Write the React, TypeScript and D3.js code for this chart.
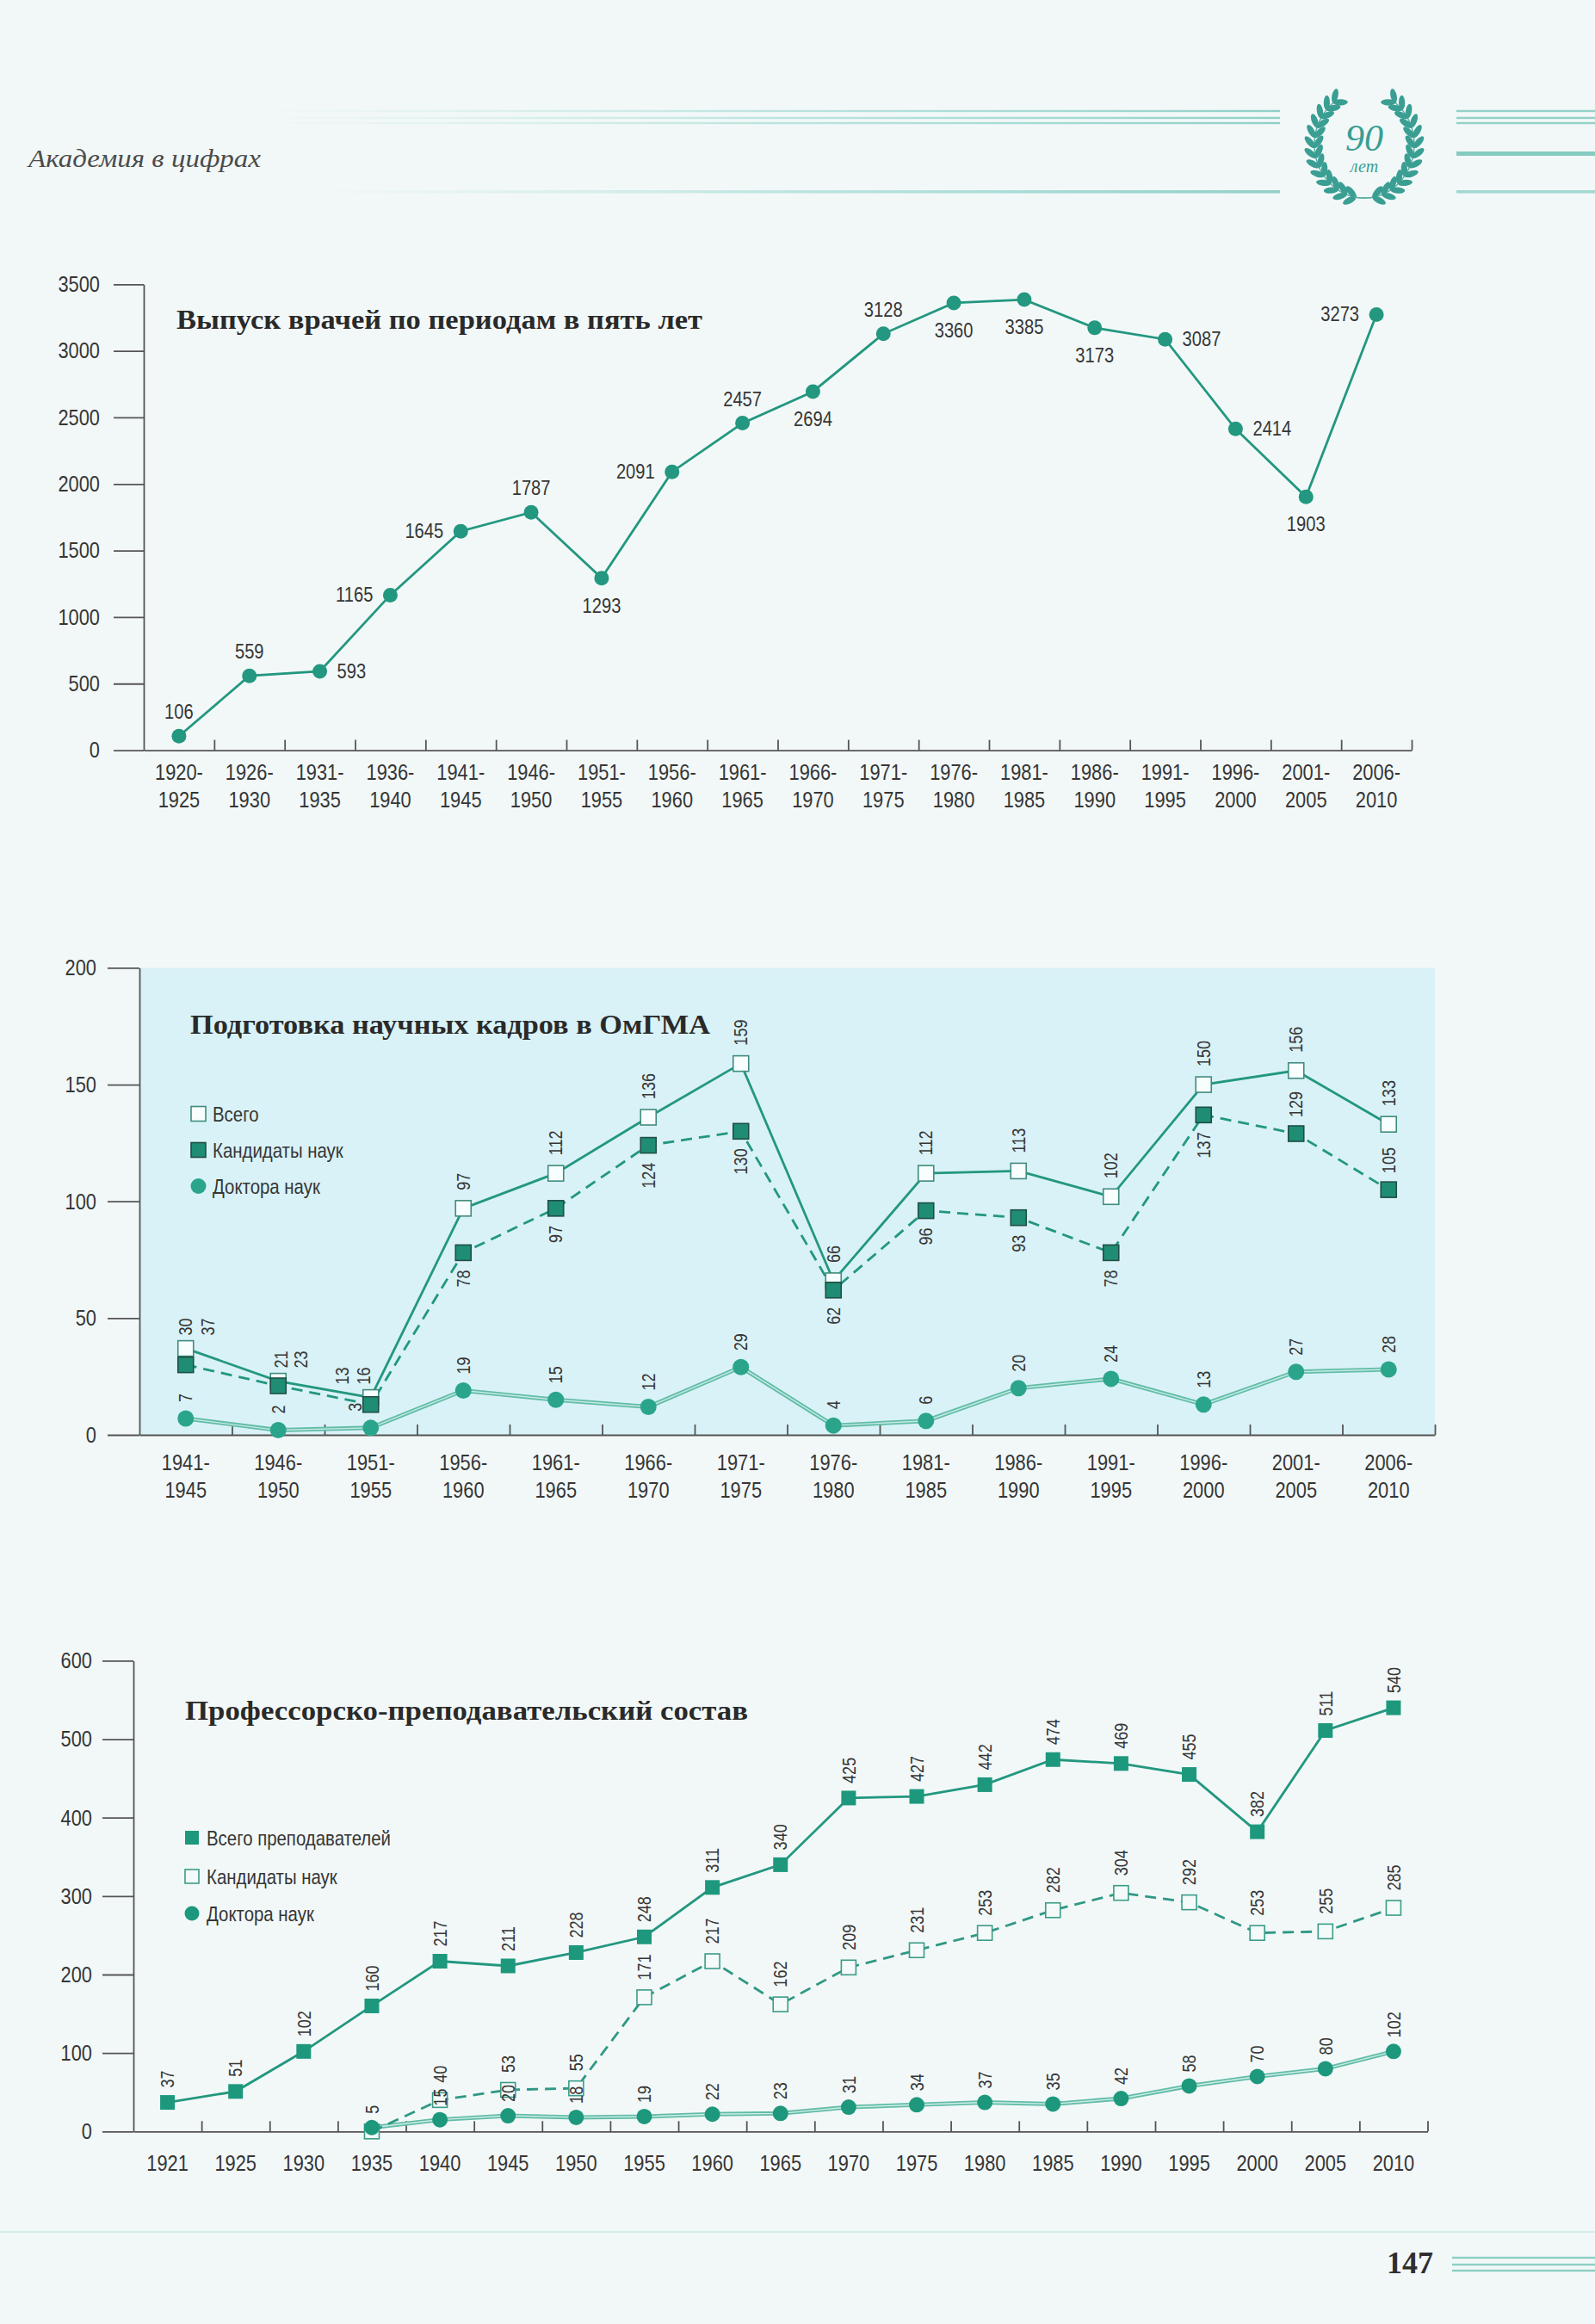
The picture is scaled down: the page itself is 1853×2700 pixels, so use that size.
import React, { useEffect, useRef } from "react";
import * as d3 from "d3";

// размеры страницы
const W = 1853;
const H = 2700;

// --- Выпуск врачей по периодам в пять лет ---
const periods1 = [
  "1920-1925", "1926-1930", "1931-1935", "1936-1940", "1941-1945", "1946-1950",
  "1951-1955", "1956-1960", "1961-1965", "1966-1970", "1971-1975", "1976-1980",
  "1981-1985", "1986-1990", "1991-1995", "1996-2000", "2001-2005", "2006-2010",
];
const graduates = [
  106, 559, 593, 1165, 1645, 1787, 1293, 2091, 2457, 2694, 3128, 3360, 3385, 3173,
  3087, 2414, 1903, 3273,
];
const gradTicks = [0, 500, 1000, 1500, 2000, 2500, 3000, 3500];

// --- Подготовка научных кадров в ОмГМА ---
const periods2 = [
  "1941-1945", "1946-1950", "1951-1955", "1956-1960", "1961-1965", "1966-1970",
  "1971-1975", "1976-1980", "1981-1985", "1986-1990", "1991-1995", "1996-2000",
  "2001-2005", "2006-2010",
];
const sciTotal = [37, 23, 16, 97, 112, 136, 159, 66, 112, 113, 102, 150, 156, 133];
const sciCand = [30, 21, 13, 78, 97, 124, 130, 62, 96, 93, 78, 137, 129, 105];
const sciDoct = [7, 2, 3, 19, 15, 12, 29, 4, 6, 20, 24, 13, 27, 28];
const sciTicks = [0, 50, 100, 150, 200];

// --- Профессорско-преподавательский состав ---
const years3 = [
  "1921", "1925", "1930", "1935", "1940", "1945", "1950", "1955", "1960", "1965",
  "1970", "1975", "1980", "1985", "1990", "1995", "2000", "2005", "2010",
];
const staffTotal = [37, 51, 102, 160, 217, 211, 228, 248, 311, 340, 425, 427, 442, 474, 469, 455, 382, 511, 540];
const staffCand = [null, null, null, 0, 40, 53, 55, 171, 217, 162, 209, 231, 253, 282, 304, 292, 253, 255, 285];
const staffDoct = [null, null, null, 5, 15, 20, 18, 19, 22, 23, 31, 34, 37, 35, 42, 58, 70, 80, 102];
const staffTicks = [0, 100, 200, 300, 400, 500, 600];

// расположение подписей (не данные)
const gradLabelPos = [
  "above", "above", "right", "left", "left", "above", "below", "left", "above",
  "below", "above", "below", "below", "below", "right", "right", "below", "left",
];
const sciTotalDx = [26, 26, -8, 0, 0, 0, 0, 0, 0, 0, 0, 0, 0, 0];
const sciCandPos = [
  "pair", "pair", "pair", "below", "below", "below", "below", "below", "below",
  "below", "below", "below", "above", "above",
];
const sciCandDx = [0, 3, -33, 0, 0, 0, 0, 0, 0, 0, 0, 0, 0, 0];
const sciDoctDx = [0, 0, -18, 0, 0, 0, 0, 0, 0, 0, 0, 0, 0, 0];

const SANS = "'Liberation Sans', Arial, Helvetica, sans-serif";
const SERIF = "'Liberation Serif', 'Times New Roman', serif";
const COND = 0.84;
const AXIS = "#555";
const LABEL = "#363636";
const TEAL = "#23977f";
const PALE = "#62bca8";

type G = d3.Selection<SVGGElement, unknown, null, undefined>;

function txt(
  g: G,
  x: number,
  y: number,
  s: string,
  o: { size: number; anchor?: string; rot?: number; sx?: number; dy?: string; fill?: string }
) {
  return g
    .append("text")
    .attr(
      "transform",
      `translate(${x},${y})${o.rot ? ` rotate(${o.rot})` : ""} scale(${o.sx ?? COND},1)`
    )
    .attr("text-anchor", o.anchor ?? "middle")
    .attr("dy", o.dy ?? null)
    .attr("fill", o.fill ?? LABEL)
    .style("font-family", SANS)
    .style("font-size", `${o.size}px`)
    .text(s);
}

function title(g: G, x: number, y: number, s: string, len: number) {
  g.append("text")
    .attr("x", x)
    .attr("y", y)
    .attr("textLength", len)
    .attr("lengthAdjust", "spacingAndGlyphs")
    .attr("fill", "#2a2a2a")
    .style("font-family", SERIF)
    .style("font-weight", "bold")
    .style("font-size", "31px")
    .text(s);
}

function leftAxis(g: G, y: d3.ScaleLinear<number, number>, ticks: number[], x0: number, len: number, pad: number) {
  const ax = g
    .append("g")
    .attr("transform", `translate(${x0},0)`)
    .call(
      d3.axisLeft(y).tickValues(ticks).tickFormat(d3.format("d")).tickSize(len).tickSizeOuter(0).tickPadding(pad)
    );
  ax.selectAll("path, line").attr("stroke", AXIS).attr("stroke-width", 1.8);
  ax.selectAll<SVGTextElement, unknown>("text").each(function () {
    const t = d3.select(this);
    const x = +t.attr("x");
    t.attr("x", null)
      .attr("transform", `translate(${x},0) scale(${COND},1)`)
      .attr("fill", LABEL)
      .style("font-size", "26px")
      .style("font-family", SANS);
  });
}

function bottomAxis(
  g: G,
  x: d3.ScaleBand<string>,
  y0: number,
  labelY: number,
  twoLines: boolean
) {
  const n = x.domain().length;
  const xb = d3.scaleLinear().domain([0, n]).range(x.range() as [number, number]);
  const ax = g
    .append("g")
    .attr("transform", `translate(0,${y0})`)
    .call(
      d3.axisBottom(xb).tickValues(d3.range(1, n + 1)).tickSize(-12).tickSizeOuter(0).tickFormat(() => "")
    );
  ax.selectAll("path, line").attr("stroke", AXIS).attr("stroke-width", 1.8);

  const lab = g
    .append("g")
    .attr("transform", `translate(0,${y0})`)
    .call(d3.axisBottom(x).tickSize(0));
  lab.select(".domain").remove();
  lab.selectAll<SVGTextElement, string>(".tick text").each(function (d) {
    const t = d3.select(this);
    t.attr("y", null)
      .attr("dy", null)
      .attr("transform", `translate(0,${labelY}) scale(${COND},1)`)
      .attr("fill", LABEL)
      .style("font-size", "26px")
      .style("font-family", SANS)
      .text(null);
    if (twoLines) {
      const [a, b] = String(d).split("-");
      t.append("tspan").attr("x", 0).text(a + "-");
      t.append("tspan").attr("x", 0).attr("dy", 32).text(b);
    } else {
      t.append("tspan").attr("x", 0).text(String(d));
    }
  });
}

const App: React.FC = () => {
  const ref = useRef<SVGSVGElement>(null);

  useEffect(() => {
    if (!ref.current) return;
    const svg = d3.select(ref.current);
    svg.selectAll("*").remove();
    const root = svg.append("g") as unknown as G;

    // фон страницы
    root.append("rect").attr("width", W).attr("height", H).attr("fill", "#f2f8f8");

    const defs = svg.append("defs");
    const grad = defs.append("linearGradient").attr("id", "fadeL").attr("x1", "0").attr("x2", "1");
    grad.append("stop").attr("offset", "0").attr("stop-color", "#bfe6e1").attr("stop-opacity", 0);
    grad.append("stop").attr("offset", "0.5").attr("stop-color", "#a6dcd5").attr("stop-opacity", 0.7);
    grad.append("stop").attr("offset", "1").attr("stop-color", "#8fd0c7").attr("stop-opacity", 1);

    // --- шапка ---
    const head = root.append("g");
    [129, 137, 143].forEach((yy) => {
      head.append("rect").attr("x", 283).attr("y", yy - 1.2).attr("width", 1204).attr("height", 2.4).attr("fill", "url(#fadeL)");
      head.append("rect").attr("x", 1692).attr("y", yy - 1.2).attr("width", 161).attr("height", 2.4).attr("fill", "#93d1c8");
    });
    head.append("rect").attr("x", 354).attr("y", 221).attr("width", 1133).attr("height", 3.5).attr("fill", "url(#fadeL)");
    head.append("rect").attr("x", 1692).attr("y", 221).attr("width", 161).attr("height", 3.5).attr("fill", "#a3d8d0");
    head.append("rect").attr("x", 1692).attr("y", 176).attr("width", 161).attr("height", 5).attr("fill", "#86cbc1");
    head
      .append("text")
      .attr("x", 33)
      .attr("y", 194)
      .attr("textLength", 270)
      .attr("lengthAdjust", "spacingAndGlyphs")
      .attr("fill", "#4c4c4c")
      .style("font-family", SERIF)
      .style("font-style", "italic")
      .style("font-size", "29px")
      .text("Академия в цифрах");

    // венок «90 лет»
    const wr = head.append("g");
    const cx = 1585, cy = 168, rx = 58, ry = 62;
    [1, -1].forEach((side) => {
      const pt = (a: number) => {
        const r = (a * Math.PI) / 180;
        return [cx + side * rx * Math.cos(r), cy + ry * Math.sin(r)] as [number, number];
      };
      const stem = d3.range(78, 238, 2).map(pt);
      wr.append("path")
        .attr("d", d3.line()(stem) as string)
        .attr("fill", "none")
        .attr("stroke", "#5aaea3")
        .attr("stroke-width", 1.5);
      d3.range(100, 236, 11).forEach((a) => {
        const r = (a * Math.PI) / 180;
        const [px, py] = pt(a);
        const tang = (Math.atan2(ry * Math.cos(r), -side * rx * Math.sin(r)) * 180) / Math.PI;
        [-38, 38].forEach((off) => {
          const ang = tang + off * side;
          const ar = (ang * Math.PI) / 180;
          wr.append("ellipse")
            .attr("cx", px + Math.cos(ar) * 8)
            .attr("cy", py + Math.sin(ar) * 8)
            .attr("rx", 8.5)
            .attr("ry", 3.6)
            .attr("transform", `rotate(${ang},${px + Math.cos(ar) * 8},${py + Math.sin(ar) * 8})`)
            .attr("fill", "#3a9e93");
        });
      });
    });
    wr.append("text").attr("x", cx).attr("y", 175).attr("text-anchor", "middle")
      .attr("fill", "#3a9e93").style("font-family", SERIF).style("font-style", "italic")
      .style("font-size", "44px").text("90");
    wr.append("text").attr("x", cx).attr("y", 200).attr("text-anchor", "middle")
      .attr("fill", "#3a9e93").style("font-family", SERIF).style("font-style", "italic")
      .style("font-size", "20px").text("лет");

    // --- график 1 ---
    const c1 = root.append("g");
    const x1 = d3.scaleBand().domain(periods1).range([167, 1640]);
    const y1 = d3.scaleLinear().domain([0, 3500]).range([871.6, 330.3]);
    const cx1 = (i: number) => (x1(periods1[i]) ?? 0) + x1.bandwidth() / 2;
    leftAxis(c1, y1, gradTicks, 167, 35, 16);
    bottomAxis(c1, x1, y1(0), 34.5, true);
    title(c1, 205, 382, "Выпуск врачей по периодам в пять лет", 611);
    c1.append("path")
      .datum(graduates)
      .attr("d", d3.line<number>().x((_, i) => cx1(i)).y((d) => y1(d)))
      .attr("fill", "none")
      .attr("stroke", TEAL)
      .attr("stroke-width", 2.8);
    c1.selectAll("circle.g1")
      .data(graduates)
      .join("circle")
      .attr("cx", (_, i) => cx1(i))
      .attr("cy", (d) => y1(d))
      .attr("r", 8.5)
      .attr("fill", TEAL);
    graduates.forEach((v, i) => {
      const px = cx1(i), py = y1(v), pos = gradLabelPos[i];
      if (pos === "above") txt(c1, px, py - 20, String(v), { size: 24 });
      else if (pos === "below") txt(c1, px, py + 40, String(v), { size: 24 });
      else if (pos === "left") txt(c1, px - 20, py + 8, String(v), { size: 24, anchor: "end" });
      else txt(c1, px + 20, py + 8, String(v), { size: 24, anchor: "start" });
    });

    // --- график 2 ---
    const c2 = root.append("g");
    const x2 = d3.scaleBand().domain(periods2).range([162, 1667]);
    const y2 = d3.scaleLinear().domain([0, 200]).range([1667, 1124.4]);
    const cx2 = (i: number) => (x2(periods2[i]) ?? 0) + x2.bandwidth() / 2;
    c2.append("rect")
      .attr("x", 162)
      .attr("y", y2(200))
      .attr("width", 1667 - 162)
      .attr("height", y2(0) - y2(200))
      .attr("fill", "#d9f2f7");
    leftAxis(c2, y2, sciTicks, 162, 37, 13);
    bottomAxis(c2, x2, y2(0), 41, true);
    title(c2, 221, 1201, "Подготовка научных кадров в ОмГМА", 604);

    const line2 = d3.line<number>().x((_, i) => cx2(i)).y((d) => y2(d));
    c2.append("path").datum(sciDoct).attr("d", line2).attr("fill", "none").attr("stroke", PALE).attr("stroke-width", 5);
    c2.append("path").datum(sciDoct).attr("d", line2).attr("fill", "none").attr("stroke", "#c4ebe3").attr("stroke-width", 1.4);
    c2.append("path").datum(sciCand).attr("d", line2).attr("fill", "none").attr("stroke", TEAL)
      .attr("stroke-width", 2.8).attr("stroke-dasharray", "13 8");
    c2.append("path").datum(sciTotal).attr("d", line2).attr("fill", "none").attr("stroke", TEAL).attr("stroke-width", 2.8);

    const sq2 = 18;
    c2.selectAll("rect.tot")
      .data(sciTotal)
      .join("rect")
      .attr("class", "tot")
      .attr("x", (_, i) => cx2(i) - sq2 / 2)
      .attr("y", (d) => y2(d) - sq2 / 2)
      .attr("width", sq2)
      .attr("height", sq2)
      .attr("fill", "#f8fdfd")
      .attr("stroke", "#3f8c7d")
      .attr("stroke-width", 1.6);
    c2.selectAll("rect.cand")
      .data(sciCand)
      .join("rect")
      .attr("class", "cand")
      .attr("x", (_, i) => cx2(i) - sq2 / 2)
      .attr("y", (d) => y2(d) - sq2 / 2)
      .attr("width", sq2)
      .attr("height", sq2)
      .attr("fill", "#1f8d74")
      .attr("stroke", "#1f4f45")
      .attr("stroke-width", 1.6);
    c2.selectAll("circle.doc")
      .data(sciDoct)
      .join("circle")
      .attr("cx", (_, i) => cx2(i))
      .attr("cy", (d) => y2(d))
      .attr("r", 9.5)
      .attr("fill", "#2aa58c");

    sciTotal.forEach((v, i) => {
      const gap = sciCandPos[i] === "pair" ? 15 : 21;
      txt(c2, cx2(i) + sciTotalDx[i], y2(v) - gap, String(v), { size: 22, rot: -90, anchor: "start", dy: "0.35em", sx: 0.82 });
      const c = sciCand[i];
      const pos = sciCandPos[i];
      if (pos === "pair")
        txt(c2, cx2(i) + sciCandDx[i], y2(v) - gap, String(c), { size: 22, rot: -90, anchor: "start", dy: "0.35em", sx: 0.82 });
      else if (pos === "above")
        txt(c2, cx2(i), y2(c) - 19, String(c), { size: 22, rot: -90, anchor: "start", dy: "0.35em", sx: 0.82 });
      else txt(c2, cx2(i), y2(c) + 20, String(c), { size: 22, rot: -90, anchor: "end", dy: "0.35em", sx: 0.82 });
      const dv = sciDoct[i];
      txt(c2, cx2(i) + sciDoctDx[i], y2(dv) - 19, String(dv), { size: 22, rot: -90, anchor: "start", dy: "0.35em", sx: 0.82 });
    });

    // легенда 2
    const lg2 = c2.append("g");
    lg2.append("rect").attr("x", 222).attr("y", 1294 - 8.5).attr("width", 17).attr("height", 17)
      .attr("fill", "#f8fdfd").attr("stroke", "#3f8c7d").attr("stroke-width", 1.6);
    lg2.append("rect").attr("x", 222).attr("y", 1336 - 8.5).attr("width", 17).attr("height", 17)
      .attr("fill", "#1f8d74").attr("stroke", "#1f4f45").attr("stroke-width", 1.6);
    lg2.append("circle").attr("cx", 230.5).attr("cy", 1378).attr("r", 9).attr("fill", "#2aa58c");
    (["Всего", "Кандидаты наук", "Доктора наук"] as string[]).forEach((s, k) =>
      txt(lg2 as unknown as G, 247, 1294 + k * 42, s, { size: 24, anchor: "start", dy: "0.36em", sx: 0.85 })
    );

    // --- график 3 ---
    const c3 = root.append("g");
    const x3 = d3.scaleBand().domain(years3).range([155, 1658.5]);
    const y3 = d3.scaleLinear().domain([0, 600]).range([2476.3, 1929.4]);
    const cx3 = (i: number) => (x3(years3[i]) ?? 0) + x3.bandwidth() / 2;
    leftAxis(c3, y3, staffTicks, 155, 36, 12);
    bottomAxis(c3, x3, y3(0), 46, false);
    title(c3, 215, 1998, "Профессорско-преподавательский состав", 654);

    const line3 = d3
      .line<number | null>()
      .defined((d) => d != null)
      .x((_, i) => cx3(i))
      .y((d) => y3(d as number));
    c3.append("path").datum(staffDoct).attr("d", line3).attr("fill", "none").attr("stroke", PALE).attr("stroke-width", 5);
    c3.append("path").datum(staffDoct).attr("d", line3).attr("fill", "none").attr("stroke", "#cdeee7").attr("stroke-width", 1.4);
    c3.append("path").datum(staffCand).attr("d", line3).attr("fill", "none").attr("stroke", "#2f9884")
      .attr("stroke-width", 2.8).attr("stroke-dasharray", "13 8");
    c3.append("path").datum(staffTotal).attr("d", line3).attr("fill", "none").attr("stroke", TEAL).attr("stroke-width", 2.8);

    const sq3 = 17;
    c3.selectAll("rect.tot")
      .data(staffTotal)
      .join("rect")
      .attr("class", "tot")
      .attr("x", (_, i) => cx3(i) - sq3 / 2)
      .attr("y", (d) => y3(d) - sq3 / 2)
      .attr("width", sq3)
      .attr("height", sq3)
      .attr("fill", "#1d987d");
    const candIdx = staffCand.map((d, i) => [d, i] as [number | null, number]).filter((p) => p[0] != null);
    c3.selectAll("rect.cand")
      .data(candIdx)
      .join("rect")
      .attr("class", "cand")
      .attr("x", (p) => cx3(p[1]) - sq3 / 2)
      .attr("y", (p) => y3(p[0] as number) - sq3 / 2)
      .attr("width", sq3)
      .attr("height", sq3)
      .attr("fill", "#f4faf9")
      .attr("stroke", "#3a9c88")
      .attr("stroke-width", 1.6);
    const docIdx = staffDoct.map((d, i) => [d, i] as [number | null, number]).filter((p) => p[0] != null);
    c3.selectAll("circle.doc")
      .data(docIdx)
      .join("circle")
      .attr("cx", (p) => cx3(p[1]))
      .attr("cy", (p) => y3(p[0] as number))
      .attr("r", 9)
      .attr("fill", "#1d987d");

    staffTotal.forEach((v, i) => {
      txt(c3, cx3(i), y3(v) - 17, String(v), { size: 22, rot: -90, anchor: "start", dy: "0.35em", sx: 0.82 });
    });
    candIdx.forEach(([v, i]) => {
      if ((v as number) > 0)
        txt(c3, cx3(i), y3(v as number) - 20, String(v), { size: 22, rot: -90, anchor: "start", dy: "0.35em", sx: 0.82 });
    });
    docIdx.forEach(([v, i]) => {
      txt(c3, cx3(i), y3(v as number) - 16, String(v), { size: 22, rot: -90, anchor: "start", dy: "0.35em", sx: 0.82 });
    });

    // легенда 3
    const lg3 = c3.append("g");
    lg3.append("rect").attr("x", 215).attr("y", 2135 - 8).attr("width", 16).attr("height", 16).attr("fill", "#1d987d");
    lg3.append("rect").attr("x", 215).attr("y", 2180 - 8).attr("width", 16).attr("height", 16)
      .attr("fill", "#f4faf9").attr("stroke", "#3a9c88").attr("stroke-width", 1.6);
    lg3.append("circle").attr("cx", 223).attr("cy", 2223).attr("r", 8.5).attr("fill", "#1d987d");
    (["Всего преподавателей", "Кандидаты наук", "Доктора наук"] as string[]).forEach((s, k) =>
      txt(lg3 as unknown as G, 240, [2135, 2180, 2223][k], s, { size: 24, anchor: "start", dy: "0.36em", sx: 0.85 })
    );

    // --- подвал ---
    const foot = root.append("g");
    foot.append("rect").attr("x", 0).attr("y", 2592).attr("width", W).attr("height", 2).attr("fill", "#d3ecea");
    [2623, 2631, 2638].forEach((yy) =>
      foot.append("rect").attr("x", 1687).attr("y", yy - 1.2).attr("width", 166).attr("height", 2.4).attr("fill", "#8ccfc6")
    );
    foot.append("text").attr("x", 1638).attr("y", 2641).attr("text-anchor", "middle")
      .attr("fill", "#2f2f2f").style("font-family", SERIF).style("font-weight", "bold")
      .style("font-size", "36px").text("147");
  }, []);

  return (
    <div style={{ position: "absolute", left: 0, top: 0, width: W, height: H }}>
      <svg ref={ref} width={W} height={H} />
    </div>
  );
};

export default App;
